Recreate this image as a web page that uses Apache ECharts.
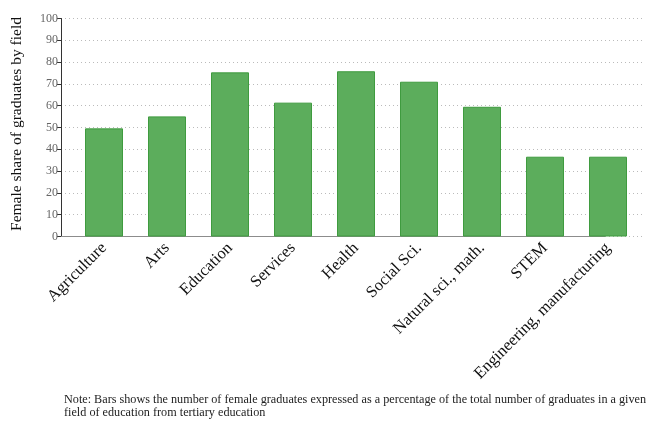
<!DOCTYPE html>
<html><head><meta charset="utf-8">
<script src="https://cdn.jsdelivr.net/npm/echarts@6/dist/echarts.min.js"></script>
<style>html,body{margin:0;padding:0;background:#fff}#c{width:646px;height:428px}</style>
</head><body><div id="c"></div>
<script>
const categories = ["Agriculture","Arts","Education","Services","Health","Social Sci.","Natural sci., math.","STEM","Engineering, manufacturing"];
const values = [49.6, 55.1, 75.3, 61.4, 75.8, 71.0, 59.5, 36.6, 36.6];
const yTicks = [0,10,20,30,40,50,60,70,80,90,100];
const yTitle = "Female share of graduates by field";
const note = "Note: Bars shows the number of female graduates expressed as a percentage of the total number of graduates in a given\nfield of education from tertiary education";

const serif = "'Liberation Serif', 'DejaVu Serif', serif";
const chart = echarts.init(document.getElementById('c'));
const gTop = 18.5, gBottom = 428 - 236.5;
chart.setOption({
  animation: false,
  grid: [
    {left: 61, right: 1, top: gTop, bottom: gBottom},
    {left: 72.5, width: 567, top: gTop, bottom: gBottom},
    {left: 61, width: 544, top: gTop, bottom: gBottom}
  ],
  xAxis: [
    {gridIndex: 0, type: 'value', show: false, min: 0, max: 1},
    {gridIndex: 1, type: 'category', data: categories,
     axisLine: {show: false}, axisTick: {show: false},
     axisLabel: {rotate: 45, interval: 0, margin: 9, fontFamily: serif, fontSize: 16.5, color: '#111'}},
    {gridIndex: 2, type: 'value', min: 0, max: 1, axisLabel: {show: false}, axisTick: {show: false},
     splitLine: {show: false}, axisLine: {show: true, lineStyle: {color: '#8c8c8c', width: 1}}}
  ],
  yAxis: [
    {gridIndex: 0, type: 'value', min: yTicks[0], max: yTicks[yTicks.length-1], interval: 10,
     axisLine: {show: true, lineStyle: {color: '#333', width: 1}},
     axisTick: {show: true, length: 4, lineStyle: {color: '#333'}},
     axisLabel: {fontFamily: serif, fontSize: 12, color: '#666', margin: 3},
     splitLine: {show: true, lineStyle: {color: '#bbb', type: [1, 3], width: 1}}},
    {gridIndex: 1, type: 'value', min: 0, max: 100, show: false},
    {gridIndex: 2, type: 'value', min: 0, max: 100, show: false}
  ],
  series: [{
    type: 'bar', xAxisIndex: 1, yAxisIndex: 1, data: values, barWidth: 38,
    itemStyle: {color: '#5cad5c', borderColor: '#3f9b3f', borderWidth: 1}
  }],
  graphic: [
    {type: 'text', x: 17, y: 124, rotation: Math.PI/2,
     style: {text: yTitle, font: "15.5px " + serif, fill: '#111', textAlign: 'center', textVerticalAlign: 'middle'}},
    {type: 'text', x: 64, y: 393, style: {text: note, font: "12.2px " + serif, fill: '#222', lineHeight: 13}}
  ]
});
</script></body></html>
